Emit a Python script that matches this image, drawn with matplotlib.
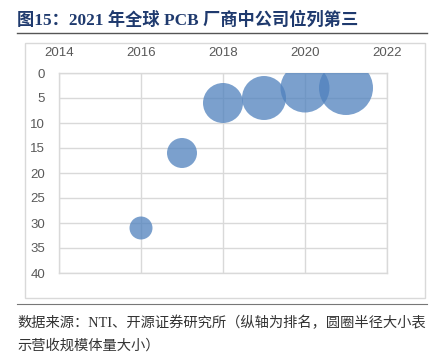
import matplotlib
matplotlib.use("Agg")
import matplotlib.pyplot as plt
from matplotlib.patches import Rectangle
from matplotlib.lines import Line2D

years = [2016, 2017, 2018, 2019, 2020, 2021]
ranks = [31, 16, 6, 5, 3, 3]
bubble_size = [132, 225, 400, 484, 600, 729]  # relative revenue scale (area)
x_ticks = [2014, 2016, 2018, 2020, 2022]
y_ticks = [0, 5, 10, 15, 20, 25, 30, 35, 40]

title = "图15：2021 年全球 PCB 厂商中公司位列第三"
note1 = "数据来源：NTI、开源证券研究所（纵轴为排名，圆圈半径大小表"
note2 = "示营收规模体量大小）"

W, H = 437, 354
fig = plt.figure(figsize=(W / 100, H / 100), dpi=100)

def fx(px):
    return px / W

def fy(py):
    return 1 - py / H

# Outer chart frame
fig.patches.append(Rectangle((fx(25), fy(298)), fx(400), 255 / H, transform=fig.transFigure,
                             fill=False, edgecolor="#D9D9D9", linewidth=1.0))
# Title + rule
fig.text(fx(17), fy(20), title, fontsize=12.4, fontweight="bold", color="#1F3A6E",
         family=["Liberation Serif", "Noto Sans CJK SC"], va="center", ha="left")
fig.lines.append(Line2D([fx(17), fx(427)], [fy(33), fy(33)], transform=fig.transFigure,
                        color="#555555", linewidth=1.0))
# Footnote rule + text
fig.lines.append(Line2D([fx(17), fx(427)], [fy(304), fy(304)], transform=fig.transFigure,
                        color="#777777", linewidth=0.8))
fig.text(fx(17), fy(323), note1, fontsize=10.3, color="#333333",
         family=["Liberation Serif", "Noto Sans CJK SC"], va="center", ha="left")
fig.text(fx(17), fy(346), note2, fontsize=10.3, color="#333333",
         family=["Liberation Serif", "Noto Sans CJK SC"], va="center", ha="left")

ax = fig.add_axes([fx(59), fy(273), fx(387) - fx(59), (273 - 73) / H])
s = [v * 1.44 ** 2 for v in bubble_size]
ax.scatter(years, ranks, s=s, color="#4F81BD", alpha=0.75, edgecolors="none", zorder=3)
ax.set_xlim(2014, 2022)
ax.set_ylim(40, 0)
ax.set_xticks(x_ticks)
ax.set_yticks(y_ticks)
ax.xaxis.tick_top()
ax.tick_params(length=0, labelsize=9.5, labelcolor="#595959", pad=10)
for lab in ax.get_xticklabels() + ax.get_yticklabels():
    lab.set_family("Liberation Sans")
ax.grid(True, color="#D9D9D9", linewidth=1.0, zorder=0)
for sp in ax.spines.values():
    sp.set_color("#D9D9D9")
    sp.set_linewidth(1.0)

fig.savefig("out.png", dpi=100)
